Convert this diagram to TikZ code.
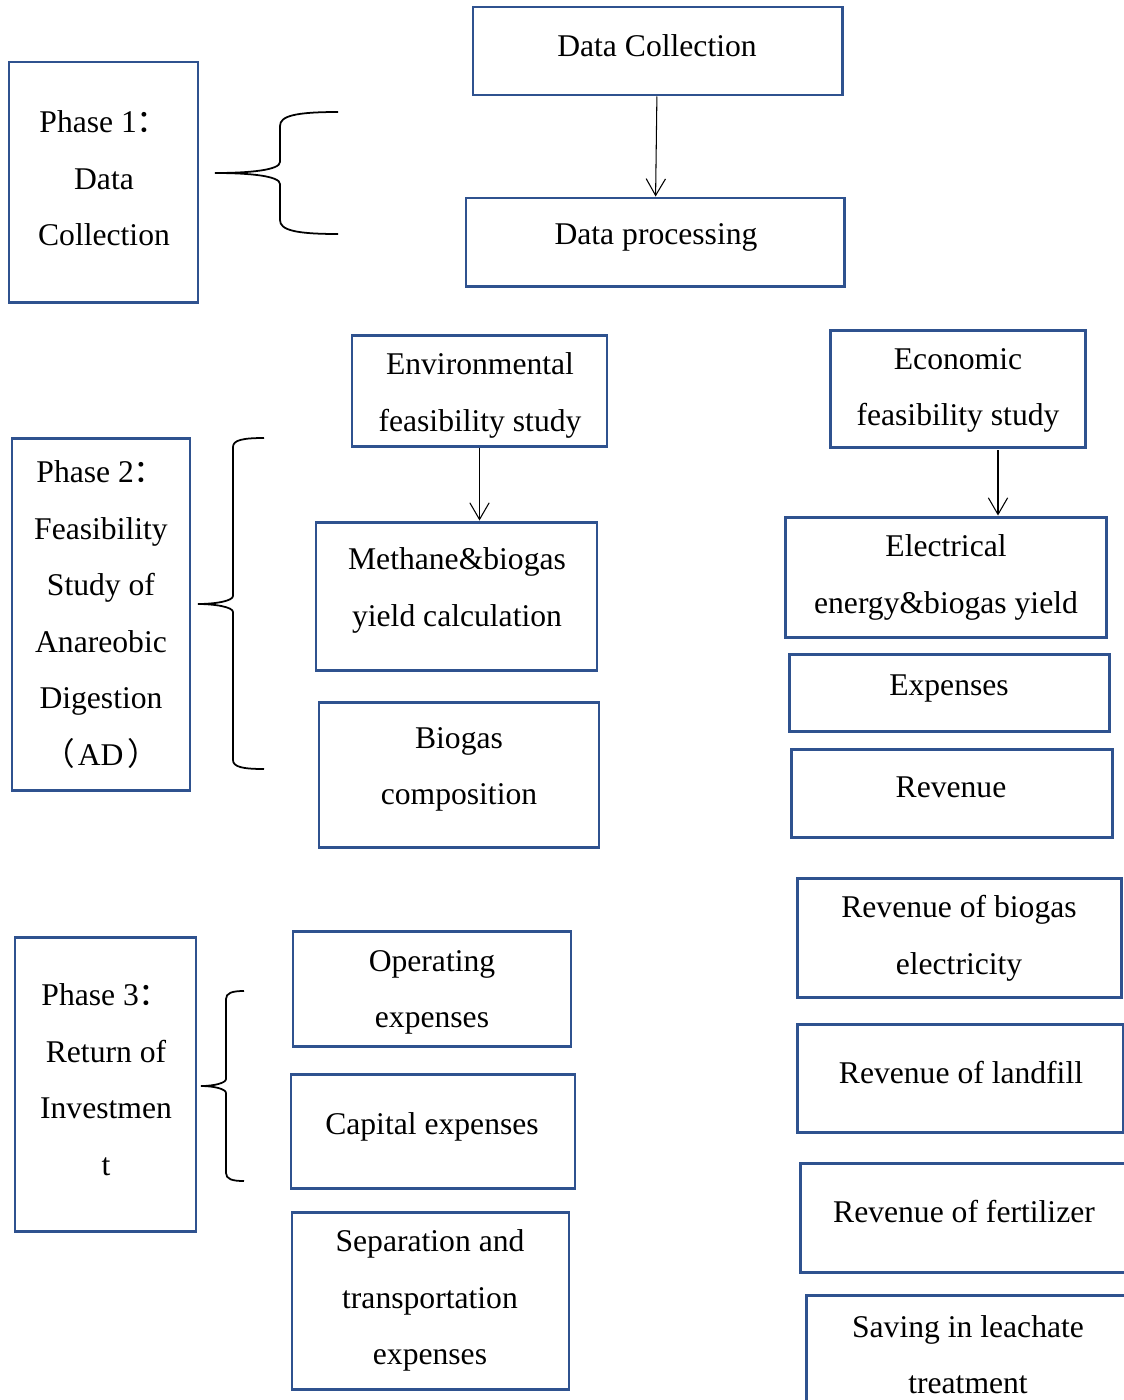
\documentclass[tikz,border=0pt]{standalone}
\usepackage{fontspec}
\setmainfont{Liberation Serif}
\newfontfamily\cjk{Noto Sans CJK SC}
\usetikzlibrary{arrows.meta,fit}
\definecolor{boxblue}{RGB}{47,82,143}
\begin{document}
\begin{tikzpicture}[>={Straight Barb[length=9.5pt,width=11pt]},x=0.02cm,y=-0.02cm,
    box/.style={draw=boxblue,line width=1.7pt,inner sep=0pt},
    txt/.style={font=\fontsize{18}{32.2}\selectfont,align=center,inner sep=0pt,yshift=-0.05cm},
    arr/.style={->,line width=0.6pt},
    brace/.style={line width=1pt}]
    \useasboundingbox (0,0) rectangle (1124,1400);
    \clip (0,0) rectangle (1124,1400);
    % phase 1
    \node[box,fit={(9,62) (198,302)}] (phaseone) {};
    \node[txt] (phaseonet) at (104,176) {Phase 1{\cjk ：}\\Data\\Collection};
    \node[box,fit={(473,7) (842,95)}] (collect) {};
    \node[txt] (collectt) at (657,43) {Data Collection};
    \node[box,fit={(466,198) (844,286)}] (process) {};
    \node[txt] (processt) at (656,235) {Data processing};
    \draw[arr] (collect) -- (process);
    \draw[brace] (338,112) .. controls (295,112) and (280,116) .. (280,126) -- (280,162)
        .. controls (280,170) and (250,173) .. (215,173)
        .. controls (250,173) and (280,176) .. (280,184) -- (280,220)
        .. controls (280,230) and (295,234) .. (338,234);
    % phase 2
    \node[box,fit={(12,438) (190,790)}] (phasetwo) {};
    \node[txt] (phasetwot) at (101,612) {Phase 2{\cjk ：}\\Feasibility\\Study of\\Anareobic\\Digestion\\{\cjk （}\hspace{0.1em}AD\hspace{0.12em}{\cjk ）}};
    \node[box,fit={(352,335) (607,446)}] (envir) {};
    \node[txt] (envirt) at (480,393) {Environmental\\feasibility study};
    \node[box,fit={(316,522) (597,670)}] (methane) {};
    \node[txt] (methanet) at (457,588) {Methane\&biogas\\yield calculation};
    \node[box,fit={(319,702) (599,847)}] (compo) {};
    \node[txt] (compot) at (459,767) {Biogas\\composition};
    \draw[arr] (envir.south) -- (envir.south |- methane.north);
    \node[box,fit={(830,330) (1085,447)}] (econ) {};
    \node[txt] (econt) at (958,388) {Economic\\feasibility study};
    \node[box,fit={(785,517) (1106,637)}] (elec) {};
    \node[txt] (elect) at (946,575) {Electrical\\energy\&biogas yield};
    \node[box,fit={(789,654) (1109,731)}] (expen) {};
    \node[txt] (expent) at (949,686) {Expenses};
    \node[box,fit={(791,749) (1112,837)}] (reven) {};
    \node[txt] (revent) at (951,785) {Revenue};
    \coordinate (econarr) at (998,450);
    \draw[arr] (econarr) -- (econarr |- elec.north);
    \draw[brace] (264,438) .. controls (243,438) and (233,440) .. (233,447) -- (233,596)
        .. controls (233,601) and (215,604) .. (198,604)
        .. controls (215,604) and (233,607) .. (233,612) -- (233,760)
        .. controls (233,767) and (243,769) .. (264,769);
    % phase 3
    \node[box,fit={(15,937) (196,1231)}] (phasethree) {};
    \node[txt] (phasethreet) at (106,1077) {Phase 3{\cjk ：}\\Return of\\Investmen\\t};
    \node[box,fit={(293,931) (571,1046)}] (operat) {};
    \node[txt] (operatt) at (432,990) {Operating\\expenses};
    \node[box,fit={(291,1074) (575,1188)}] (capital) {};
    \node[txt] (capitalt) at (432,1124) {Capital expenses};
    \node[box,fit={(292,1212) (569,1389)}] (separ) {};
    \node[txt] (separt) at (430,1298) {Separation and\\transportation\\expenses};
    \draw[brace] (244,991) .. controls (232,991) and (226,993) .. (226,999) -- (226,1079)
        .. controls (226,1083) and (214,1086) .. (201,1086)
        .. controls (214,1086) and (226,1089) .. (226,1093) -- (226,1173)
        .. controls (226,1179) and (232,1181) .. (244,1181);
    \node[box,fit={(797,878) (1121,997)}] (biogaselec) {};
    \node[txt] (biogaselect) at (959,936) {Revenue of biogas\\electricity};
    \node[box,fit={(797,1024) (1123,1132)}] (landfill) {};
    \node[txt] (landfillt) at (961,1070) {Revenue of landfill};
    \node[box,fit={(800,1163) (1134,1272)}] (fertil) {};
    \node[txt] (fertilt) at (964,1209) {Revenue of fertilizer};
    \node[box,fit={(806,1295) (1134,1420)}] (leach) {};
    \node[txt] (leacht) at (968,1352) {Saving in leachate\\treatment};
\end{tikzpicture}
\end{document}
